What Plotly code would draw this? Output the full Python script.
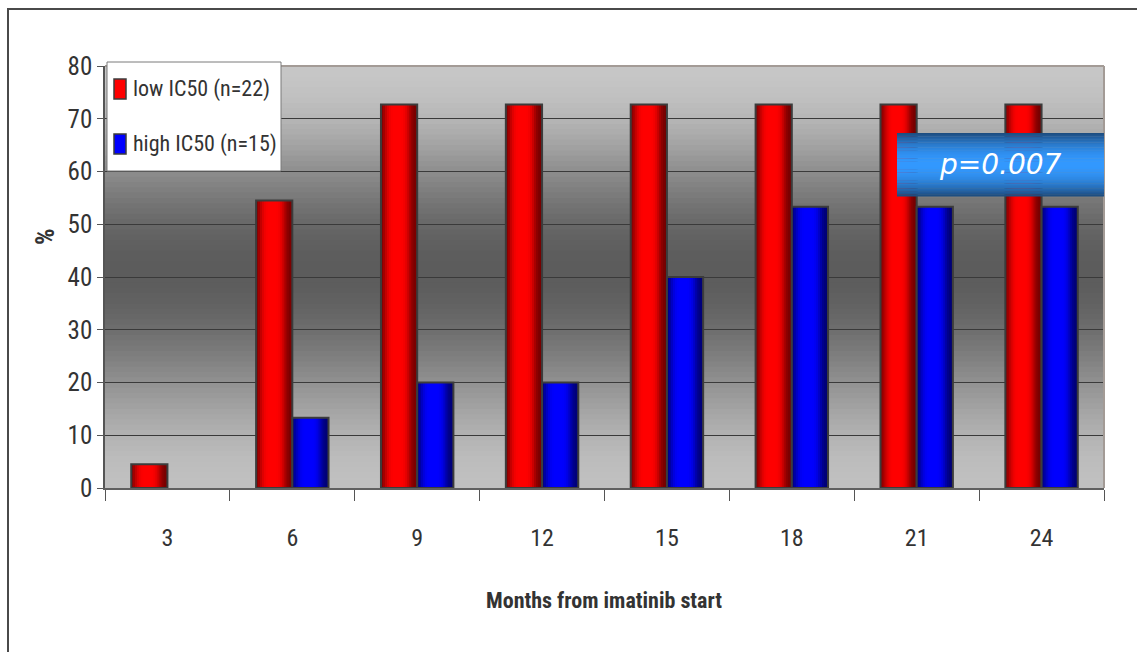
import math
import plotly.graph_objects as go

# Proportion of patients per time point (%)
months = ["3", "6", "9", "12", "15", "18", "21", "24"]
low_ic50 = [4.5, 54.5, 72.7, 72.7, 72.7, 72.7, 72.7, 72.7]
high_ic50 = [0.0, 13.3, 20.0, 20.0, 40.0, 53.3, 53.3, 53.3]
series_names = ["low IC50 (n=22)", "high IC50 (n=15)"]
p_value_text = "p=0.007"
x_title = "Months from imatinib start"
y_title = "%"

FONT = "Roboto Condensed, Liberation Sans, sans-serif"
TXT = "#333333"
BAR_W = 0.29          # bar width in category units
N_SLICES = 18         # vertical strips used to shade each bar like a cylinder
OUTLINE = "#3c3c3c"

# pixel geometry of the plot area (for paper-coordinate placement)
L, R, T, B = 105, 1104, 66, 488
PW, PH = R - L, B - T


def px(x):
    return (x - L) / PW


def py(y):
    return (B - y) / PH


def shade(t):
    """Brightness across the bar width (t in 0..1)."""
    return 0.45 + 0.55 * math.exp(-((t - 0.45) / 0.36) ** 4)


def draw_zero_as_gap(vals):
    return [v if v else None for v in vals]


fig = go.Figure()

red, blue = (255, 0, 0), (0, 0, 255)
series = [
    (series_names[0], draw_zero_as_gap(low_ic50), -BAR_W, red),
    (series_names[1], draw_zero_as_gap(high_ic50), 0.0, blue),
]

for name, vals, off, rgb in series:
    fig.add_trace(go.Bar(
        x=months, y=vals, name=name, width=BAR_W, offset=off,
        marker=dict(color="rgb(%d,%d,%d)" % rgb, line=dict(width=0)),
        hoverinfo="skip",
    ))
    sw = BAR_W / N_SLICES
    for i in range(N_SLICES):
        k = shade((i + 0.5) / N_SLICES)
        col = "rgb(%d,%d,%d)" % tuple(int(c * k) for c in rgb)
        w = sw * 1.25 if i < N_SLICES - 1 else sw
        fig.add_trace(go.Bar(
            x=months, y=vals, width=w, offset=off + i * sw,
            marker=dict(color=col, line=dict(width=0)),
            hoverinfo="skip",
        ))
    fig.add_trace(go.Bar(
        x=months, y=vals, width=BAR_W, offset=off,
        marker=dict(color="rgba(0,0,0,0)", line=dict(color=OUTLINE, width=2)),
        hoverinfo="skip",
    ))

shapes = []

# plot-area background: vertical grey gradient (light - dark - light)
N_BG = 80
for j in range(N_BG):
    f0 = j / N_BG
    f1 = (j + 1) / N_BG
    fm = (f0 + f1) / 2
    if fm < 0.48:
        u = fm / 0.48
        v = 198 - (198 - 92) * (1 - math.cos(math.pi * u)) / 2
    else:
        u = (fm - 0.48) / 0.52
        v = 92 + (192 - 92) * (1 - math.cos(math.pi * u)) / 2
    v = int(round(v))
    shapes.append(dict(
        type="rect", xref="x domain", yref="y domain",
        x0=0, x1=1, y0=1 - f1 - 0.002, y1=1 - f0,
        fillcolor="rgb(%d,%d,%d)" % (v, v, v), line=dict(width=0), layer="below",
    ))

# plot-area frame (top and right)
shapes.append(dict(type="line", xref="x domain", yref="y domain", x0=0, x1=1, y0=1, y1=1,
                   line=dict(color="#a39b96", width=2)))
shapes.append(dict(type="line", xref="x domain", yref="y domain", x0=1, x1=1, y0=0, y1=1,
                   line=dict(color="#a39b96", width=2)))

# outer chart frame
shapes.append(dict(type="rect", xref="paper", yref="paper",
                   x0=px(8), x1=px(1300), y0=py(800), y1=py(9),
                   line=dict(color="#4a4a4a", width=2), fillcolor="rgba(0,0,0,0)", layer="below"))

# legend box
shapes.append(dict(type="rect", xref="paper", yref="paper",
                   x0=px(107), x1=px(281), y0=py(171), y1=py(62),
                   line=dict(color="#7a7a7a", width=1), fillcolor="white", layer="above"))

annotations = []
legend_rows = [(series_names[0], red, 89), (series_names[1], blue, 144)]
for name, rgb, yc in legend_rows:
    shapes.append(dict(type="rect", xref="paper", yref="paper",
                       x0=px(114), x1=px(126), y0=py(yc + 10), y1=py(yc - 10),
                       line=dict(color=OUTLINE, width=1.5),
                       fillcolor="rgb(%d,%d,%d)" % rgb, layer="above"))
    annotations.append(dict(text=name, xref="paper", yref="paper",
                            x=px(131), y=py(yc), xanchor="left", yanchor="middle",
                            showarrow=False, font=dict(family=FONT, size=22, color=TXT)))

# p-value box with vertical blue gradient
bx0, bx1 = px(897), px(1104)
by0, by1 = py(196), py(133)
N_BOX = 40
for j in range(N_BOX):
    f0 = j / N_BOX
    f1 = (j + 1) / N_BOX
    fm = (f0 + f1) / 2
    k = math.sin(math.pi * fm) ** 0.8
    r = int(28 + (51 - 28) * k)
    g = int(72 + (153 - 72) * k)
    b = int(120 + (255 - 120) * k)
    shapes.append(dict(
        type="rect", xref="paper", yref="paper",
        x0=bx0, x1=bx1,
        y0=by1 - (by1 - by0) * f1 - 0.001, y1=by1 - (by1 - by0) * f0,
        fillcolor="rgb(%d,%d,%d)" % (r, g, b), line=dict(width=0), layer="above",
    ))

annotations += [
    dict(text=p_value_text, xref="paper", yref="paper",
         x=(bx0 + bx1) / 2, y=(by0 + by1) / 2, showarrow=False,
         font=dict(family="DejaVu Sans, Verdana, sans-serif", size=28, color="white", style="italic"),
         xanchor="center", yanchor="middle"),
    dict(text="<b>%s</b>" % x_title, xref="paper", yref="paper",
         x=px(604), y=py(600), showarrow=False,
         font=dict(family=FONT, size=22, color=TXT),
         xanchor="center", yanchor="middle"),
    dict(text="<b>%s</b>" % y_title, xref="paper", yref="paper",
         x=px(45), y=py(237), showarrow=False, textangle=-90,
         font=dict(family=FONT, size=26, color=TXT),
         xanchor="center", yanchor="middle"),
]

fig.update_layout(
    width=1137, height=652, autosize=False,
    margin=dict(l=L, r=1137 - R, t=T, b=652 - B),
    paper_bgcolor="white", plot_bgcolor="rgba(0,0,0,0)",
    barmode="overlay",
    font=dict(family=FONT, color=TXT),
    shapes=shapes, annotations=annotations,
    showlegend=False,
    xaxis=dict(
        type="category", categoryorder="array", categoryarray=months,
        tickson="boundaries", ticks="outside", ticklen=11, tickcolor="#555555",
        showline=True, linecolor="#606060", linewidth=2,
        showgrid=False, zeroline=False,
        tickfont=dict(family=FONT, size=24, color=TXT),
        ticklabelstandoff=27, fixedrange=True,
    ),
    yaxis=dict(
        range=[0, 80], dtick=10, ticks="outside", ticklen=6, tickcolor="#555555",
        showline=True, linecolor="#555555", linewidth=1.5,
        showgrid=True, gridcolor="#3a3a3a", gridwidth=1, zeroline=False,
        tickfont=dict(family=FONT, size=25, color=TXT),
        ticklabelstandoff=0, fixedrange=True,
    ),
)

fig.write_html("out.html")
